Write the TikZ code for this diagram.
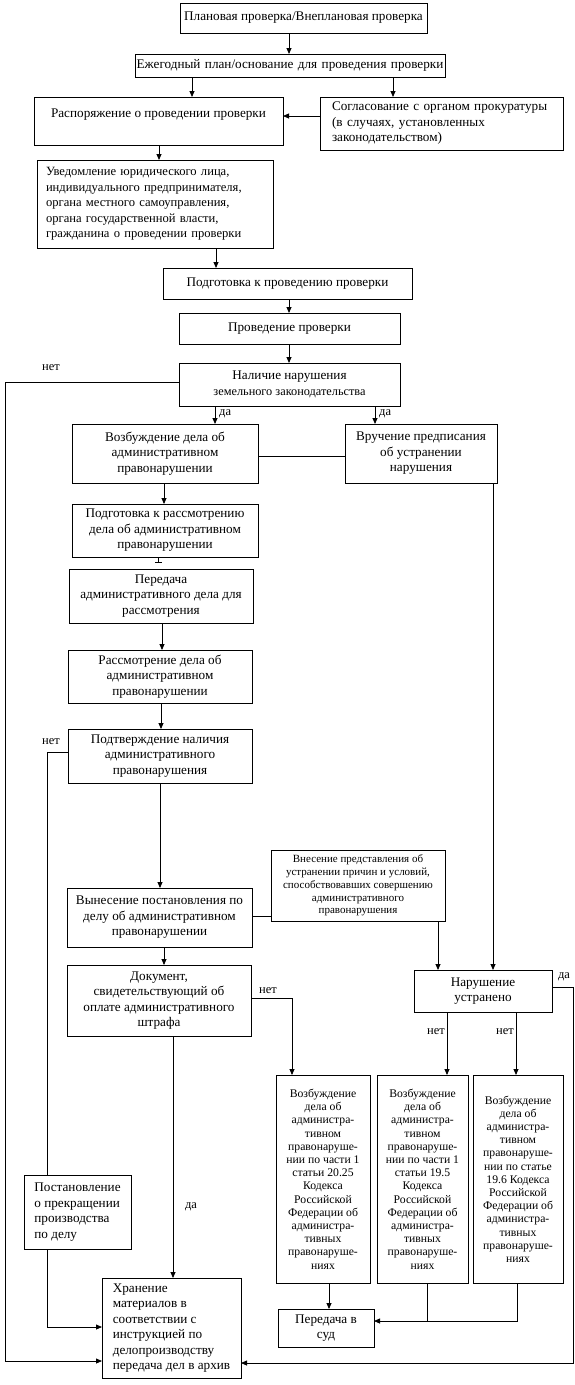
\documentclass[tikz,border=0pt]{standalone}
\usepackage{fontspec}
\setmainfont{Liberation Serif}
\usetikzlibrary{arrows.meta,calc}
\newcommand\mainsz{\fontsize{13.2}{15.5}\selectfont}
\newcommand\midsz{\fontsize{12.6}{15.5}\selectfont}
\newcommand\smsz{\fontsize{11}{12.8}\selectfont}
\newcommand\csz{\fontsize{11.7}{13.2}\selectfont}
\newcommand\lblsz{\fontsize{12.5}{14}\selectfont}
\newcommand\mybx[7][]{%
  \pgfmathsetmacro\myBW{#5-#3}\pgfmathsetmacro\myBH{#6-#4}%
  \pgfmathsetmacro\myCX{(#3+#5)/2}\pgfmathsetmacro\myCY{(#4+#6)/2}%
  \node[box,minimum width=\myBW pt,minimum height=\myBH pt,#1] (#2) at (\myCX,\myCY) {#7};}
\tikzset{
  box/.style={draw, line width=0.8pt, rectangle, inner xsep=2pt, inner ysep=2pt, outer sep=0pt, align=center, font=\mainsz},
  arr/.style={line width=0.8pt, -{Triangle[length=6pt,width=5pt]}},
  ln/.style={line width=0.8pt},
  lbl/.style={font=\lblsz, inner sep=1pt},
}
\begin{document}
\begin{tikzpicture}[x=1pt,y=-1pt]
\useasboundingbox[fill=white] (0,0) rectangle (575,1385);
% boxes
\mybx{b1}{180}{3}{427}{33}{Плановая проверка/Внеплановая проверка}
\mybx[text width=\myBW pt-4pt, inner xsep=1pt]{b2}{135}{54}{445}{77}{\makebox[\linewidth]{Ежегодный план/основание для проведения проверки}}
\mybx{b3}{34}{97}{283}{145}{Распоряжение о проведении проверки\\~}
\mybx[align=left, text width=\myBW pt-24pt]{b4}{320}{97}{563}{150}{Согласование с органом прокуратуры\\(в случаях, установленных\\законодательством)}
\mybx[align=left, text width=\myBW pt-18pt, font=\midsz]{b5}{37}{160}{273}{248}{Уведомление юридического лица,\\индивидуального предпринимателя,\\органа местного самоуправления,\\органа государственной власти,\\гражданина о проведении проверки}
\mybx{b6}{163}{268}{412}{299}{Подготовка к проведению проверки}
\mybx{b7}{179}{313}{400}{344}{Проведение проверки}
\mybx{b8}{179}{363}{400}{406}{Наличие нарушения\\{\fontsize{12.3}{13.5}\selectfont земельного законодательства}}
\mybx{b9}{72}{424}{258}{483}{Возбуждение дела об\\административном\\правонарушении}
\mybx{b10}{345}{424}{497}{483}{Вручение предписания\\об устранении\\нарушения}
\mybx{b11}{72}{504}{258}{557}{Подготовка к рассмотрению\\дела об административном\\правонарушении}
\mybx{b12}{69}{569}{253}{623}{Передача\\административного дела для\\рассмотрения}
\mybx{b13}{68}{650}{252}{703}{Рассмотрение дела об\\административном\\правонарушении}
\mybx{b14}{68}{729}{252}{783}{Подтверждение наличия\\административного\\правонарушения}
\mybx{b15}{67}{888}{252}{947}{Вынесение постановления по\\делу об административном\\правонарушении}
\mybx[font=\smsz]{b16}{271}{850}{445}{921}{Внесение представления об\\устранении причин и условий,\\способствовавших совершению\\административного\\правонарушения}
\mybx{b17}{67}{965}{251}{1036}{Документ,\\свидетельствующий об\\оплате административного\\штрафа}
\mybx{b18n}{414}{970}{552}{1012}{Нарушение\\устранено}
\mybx[align=left, inner xsep=1pt]{b19}{24}{1175}{131}{1249}{Постановление\\о прекращении\\производства\\по делу}
\mybx[align=left, inner xsep=1pt]{b20}{102}{1278}{241}{1378}{Хранение\\материалов в\\соответствии с\\инструкцией по\\делопроизводству\\передача дел в архив}
\mybx[font=\csz]{c1}{276}{1075}{370}{1283}{Возбуждение\\дела об\\администра-\\тивном\\правонаруше-\\нии по части 1\\статьи 20.25\\Кодекса\\Российской\\Федерации об\\администра-\\тивных\\правонаруше-\\ниях}
\mybx[font=\csz]{c2}{377}{1075}{468}{1283}{Возбуждение\\дела об\\администра-\\тивном\\правонаруше-\\нии по части 1\\статьи 19.5\\Кодекса\\Российской\\Федерации об\\администра-\\тивных\\правонаруше-\\ниях}
\mybx[font=\csz]{c3}{473}{1075}{563}{1283}{Возбуждение\\дела об\\администра-\\тивном\\правонаруше-\\нии по статье\\19.6 Кодекса\\Российской\\Федерации об\\администра-\\тивных\\правонаруше-\\ниях}
\mybx{sud}{278}{1309}{374}{1347}{Передача в\\суд}
% connectors
\draw[arr] (289,0 |- b1.south) -- (289,0 |- b2.north);
\draw[arr] (192,0 |- b2.south) -- (192,0 |- b3.north);
\draw[arr] (393,0 |- b2.south) -- (393,0 |- b4.north);
\draw[arr] (b4.west |- 0,116) -- (b3.east |- 0,116);
\draw[arr] (159,0 |- b3.south) -- (159,0 |- b5.north);
\draw[arr] (216,0 |- b5.south) -- (216,0 |- b6.north);
\draw[arr] (289,0 |- b6.south) -- (289,0 |- b7.north);
\draw[arr] (289,0 |- b7.south) -- (289,0 |- b8.north);
\draw[arr] (215,0 |- b8.south) -- (215,0 |- b9.north);
\draw[arr] (375,0 |- b8.south) -- (375,0 |- b10.north);
\draw[ln] (b9.east |- 0,456) -- (b10.west |- 0,456);
\draw[arr] (b8.west |- 0,382) -| (5.5,1361) -- (b20.west |- 0,1361);
\draw[arr] (164,0 |- b9.south) -- (164,0 |- b11.north);
\draw[ln,-{Bar[width=7pt]},shorten >=6pt] (158,0 |- b11.south) -- (158,0 |- b12.north);
\draw[arr] (162,0 |- b12.south) -- (162,0 |- b13.north);
\draw[arr] (161,0 |- b13.south) -- (161,0 |- b14.north);
\draw[ln] (b14.west |- 0,752) -| (47,0 |- b19.north);
\draw[arr] (160,0 |- b14.south) -- (160,0 |- b15.north);
\draw[ln] (b15.east |- 0,916) -- (b16.west |- 0,916);
\draw[arr] (438,0 |- b16.south) -- (438,0 |- b18n.north);
\draw[arr] (493,0 |- b10.south) -- (493,0 |- b18n.north);
\draw[arr] (164,0 |- b15.south) -- (164,0 |- b17.north);
\draw[arr] (b17.east |- 0,998) -| (292,0 |- c1.north);
\draw[arr] (173,0 |- b17.south) -- (173,0 |- b20.north);
\draw[arr] (47,0 |- b19.south) |- (b20.west |- 0,1327);
\draw[arr] (b18n.east |- 0,987) -| (573,1363) -- (b20.east |- 0,1363);
\draw[arr] (447,0 |- b18n.south) -- (447,0 |- c2.north);
\draw[arr] (516,0 |- b18n.south) -- (516,0 |- c3.north);
\draw[arr] (329,0 |- c1.south) -- (329,0 |- sud.north);
\draw[ln] (427,0 |- c2.south) -- (427,1321);
\draw[arr] (517,0 |- c3.south) |- (sud.east |- 0,1321);
% labels
\node[lbl] (l1) at (51,368) {нет};
\node[lbl,anchor=west] (l2) at (218,414) {да};
\node[lbl,anchor=west] (l3) at (378,414) {да};
\node[lbl] (l4) at (51,742) {нет};
\node[lbl] (l5) at (268,991) {нет};
\node[lbl] (l6) at (191,1207) {да};
\node[lbl] (l7) at (564,977) {да};
\node[lbl,anchor=east] (l8) at (446,1032) {нет};
\node[lbl,anchor=east] (l9) at (515,1032) {нет};
\end{tikzpicture}
\end{document}
